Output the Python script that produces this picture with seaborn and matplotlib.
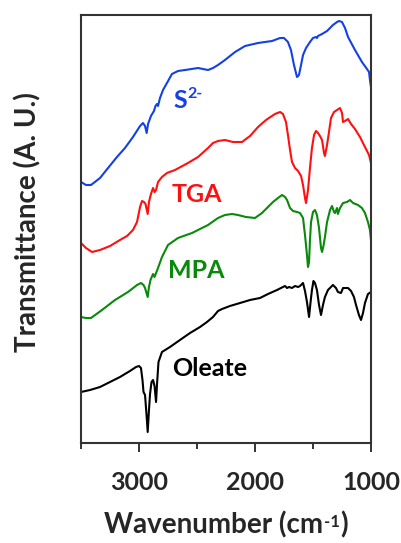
import numpy as np
import pandas as pd
import matplotlib
matplotlib.use("Agg")
import matplotlib.pyplot as plt
from matplotlib.transforms import Bbox
import seaborn as sns

# ---- data (wavenumber cm^-1, transmittance offset a.u.) ----
wn_s2 = [3500, 3457, 3414, 3336, 3267, 3190, 3121, 3052, 2991, 2966, 2948, 2934, 2922, 2897,
         2871, 2858, 2845, 2836, 2819, 2793, 2759, 2716, 2664, 2603, 2491, 2448, 2405, 2362,
         2319, 2259, 2172, 2086, 1974, 1853, 1784, 1750, 1716, 1690, 1664, 1638, 1621, 1603,
         1586, 1560, 1526, 1500, 1474, 1466, 1457, 1422, 1379, 1328, 1293, 1276, 1250, 1224,
         1198, 1138, 1078, 1035, 1017, 1009, 1000]
t_s2 = [2.61, 2.58, 2.58, 2.65, 2.75, 2.86, 2.95, 3.06, 3.17, 3.20, 3.17, 3.10, 3.19, 3.27,
        3.32, 3.37, 3.39, 3.37, 3.45, 3.53, 3.60, 3.69, 3.72, 3.73, 3.75, 3.74, 3.73, 3.75,
        3.78, 3.83, 3.91, 3.97, 4.00, 4.02, 4.05, 4.05, 4.01, 3.93, 3.78, 3.66, 3.68, 3.78,
        3.88, 3.95, 4.01, 4.05, 4.06, 4.05, 4.07, 4.09, 4.12, 4.18, 4.21, 4.22, 4.21, 4.15,
        4.06, 3.93, 3.81, 3.74, 3.71, 3.63, 3.56]

wn_tga = [3500, 3457, 3405, 3336, 3250, 3164, 3103, 3052, 3017, 2991, 2974, 2957, 2944, 2925,
          2914, 2897, 2879, 2866, 2853, 2836, 2802, 2759, 2690, 2578, 2491, 2405, 2362, 2319,
          2259, 2190, 2112, 2043, 1974, 1905, 1828, 1784, 1759, 1733, 1716, 1698, 1681, 1655,
          1629, 1603, 1586, 1569, 1560, 1543, 1526, 1509, 1491, 1474, 1457, 1440, 1422, 1405,
          1397, 1379, 1362, 1345, 1319, 1293, 1267, 1250, 1241, 1224, 1198, 1172, 1138, 1095,
          1052, 1017, 1000]
t_tga = [2.00, 1.95, 1.91, 1.93, 1.97, 2.03, 2.07, 2.13, 2.21, 2.36, 2.42, 2.41, 2.39, 2.29,
         2.41, 2.49, 2.55, 2.51, 2.53, 2.61, 2.66, 2.70, 2.73, 2.80, 2.86, 2.95, 3.00, 3.02,
         3.03, 3.01, 3.01, 3.07, 3.16, 3.23, 3.29, 3.31, 3.29, 3.21, 3.08, 2.93, 2.81, 2.75,
         2.72, 2.67, 2.58, 2.45, 2.40, 2.53, 2.75, 2.95, 3.08, 3.12, 3.10, 3.07, 3.03, 2.90,
         2.87, 2.98, 3.11, 3.25, 3.31, 3.33, 3.35, 3.30, 3.21, 3.22, 3.24, 3.19, 3.14, 3.06,
         2.96, 2.88, 2.80]

wn_mpa = [3500, 3457, 3414, 3319, 3207, 3095, 3017, 2983, 2961, 2948, 2925, 2914, 2901, 2879,
          2866, 2853, 2836, 2802, 2750, 2664, 2543, 2474, 2405, 2319, 2259, 2198, 2147, 2078,
          2000, 1940, 1888, 1845, 1802, 1767, 1741, 1724, 1698, 1672, 1638, 1612, 1586, 1569,
          1552, 1543, 1534, 1526, 1517, 1500, 1483, 1466, 1448, 1431, 1422, 1410, 1397, 1379,
          1353, 1336, 1319, 1310, 1293, 1285, 1267, 1241, 1207, 1181, 1155, 1112, 1078, 1052,
          1026, 1009, 1000]
t_mpa = [1.26, 1.25, 1.25, 1.33, 1.43, 1.51, 1.58, 1.60, 1.58, 1.55, 1.46, 1.56, 1.63, 1.69,
         1.66, 1.70, 1.75, 1.86, 1.98, 2.05, 2.10, 2.14, 2.18, 2.25, 2.28, 2.29, 2.28, 2.26,
         2.25, 2.30, 2.36, 2.41, 2.45, 2.48, 2.46, 2.43, 2.35, 2.32, 2.31, 2.30, 2.25, 2.08,
         1.88, 1.76, 1.81, 2.03, 2.21, 2.31, 2.33, 2.28, 2.15, 1.95, 1.91, 1.97, 2.06, 2.21,
         2.33, 2.37, 2.31, 2.30, 2.35, 2.29, 2.35, 2.40, 2.41, 2.43, 2.40, 2.38, 2.35, 2.30,
         2.21, 2.13, 2.03]

wn_ole = [3500, 3422, 3336, 3250, 3164, 3078, 3026, 3000, 2983, 2970, 2961, 2948, 2935, 2925,
          2914, 2905, 2892, 2879, 2866, 2853, 2845, 2832, 2802, 2733, 2647, 2560, 2474, 2414,
          2362, 2319, 2284, 2216, 2129, 2043, 1957, 1888, 1810, 1759, 1741, 1724, 1707, 1681,
          1655, 1629, 1612, 1586, 1569, 1552, 1534, 1522, 1509, 1496, 1483, 1466, 1448, 1431,
          1414, 1397, 1371, 1328, 1302, 1285, 1259, 1241, 1198, 1172, 1147, 1129, 1104, 1086,
          1069, 1052, 1026, 1000]
t_ole = [0.51, 0.53, 0.56, 0.61, 0.66, 0.72, 0.76, 0.77, 0.75, 0.63, 0.51, 0.48, 0.28, 0.11,
         0.33, 0.49, 0.61, 0.63, 0.57, 0.41, 0.58, 0.81, 0.91, 0.96, 1.03, 1.10, 1.16, 1.21,
         1.26, 1.32, 1.34, 1.37, 1.40, 1.43, 1.45, 1.49, 1.53, 1.56, 1.57, 1.55, 1.56, 1.55,
         1.57, 1.56, 1.57, 1.60, 1.52, 1.41, 1.26, 1.40, 1.53, 1.62, 1.60, 1.53, 1.38, 1.28,
         1.38, 1.46, 1.53, 1.58, 1.55, 1.51, 1.50, 1.55, 1.55, 1.52, 1.46, 1.38, 1.28, 1.23,
         1.30, 1.40, 1.49, 1.51]

series_names = ["S2-", "TGA", "MPA", "Oleate"]
series_colors = ["#1440E6", "#FF1010", "#0A8A0A", "#000000"]
label_main = ["S", "TGA", "MPA", "Oleate"]
label_sup = ["2-", "", "", ""]
label_pos = [(2707, 3.43), (2716, 2.49), (2750, 1.72), (2716, 0.75)]

x_major = [3000, 2000, 1000]
x_minor = [3500, 2500, 1500]

xlabel_main = "Wavenumber (cm"
xlabel_sup = "-1"
xlabel_end = ")"
ylabel_text = "Transmittance (A. U.)"

# ---- build long table ----
frames = []
for name, wn, t in zip(series_names, [wn_s2, wn_tga, wn_mpa, wn_ole], [t_s2, t_tga, t_mpa, t_ole]):
    frames.append(pd.DataFrame({"wn": wn, "t": t, "sample": name}))
df = pd.concat(frames, ignore_index=True)

sns.set_style("ticks")
plt.rcParams["font.family"] = ["Lato", "DejaVu Sans"]

fig = plt.figure(figsize=(4.01, 5.43), dpi=100)
ax = fig.add_axes([81 / 401, 100 / 543, 290 / 401, 428 / 543])

sns.lineplot(data=df, x="wn", y="t", hue="sample", hue_order=series_names,
             palette=series_colors, estimator=None, sort=False, linewidth=1.5,
             legend=False, ax=ax)

ax.set_xlim(3500, 1000)
ax.set_ylim(0, 4.28)
ax.set_xticks(x_major)
ax.set_xticks(x_minor, minor=True)
ax.set_yticks([])
ax.tick_params(axis="x", which="major", direction="out", length=6.5, width=1.4,
               color="#333333", labelsize=18, pad=14)
ax.tick_params(axis="x", which="minor", direction="out", length=4.3, width=1.4,
               color="#333333")
for lbl in ax.get_xticklabels():
    lbl.set_fontweight("bold")
for sp in ax.spines.values():
    sp.set_visible(True)
    sp.set_linewidth(1.5)
    sp.set_color("#333333")

# x label: main text + superscript with a short hyphen + closing parenthesis
ax.set_xlabel(xlabel_main, fontsize=20, fontweight="bold", labelpad=12)
xl = ax.xaxis.label
sup = ax.annotate(xlabel_sup, xy=(1, 1), xycoords=xl, xytext=(0.5, -2),
                  textcoords="offset points", fontsize=12, fontweight="bold",
                  ha="left", va="top")


def _after_sup(renderer):
    s = sup.get_window_extent(renderer)
    m = xl.get_window_extent(renderer)
    return Bbox.from_extents(s.x1, m.y0, s.x1, m.y1)


close = ax.annotate(xlabel_end, xy=(0, 0), xycoords=_after_sup, xytext=(0.5, 0),
                    textcoords="offset points", fontsize=20, fontweight="bold",
                    ha="left", va="bottom")
fig.canvas.draw()
r = fig.canvas.get_renderer()
mb = xl.get_window_extent(r)
cb = close.get_window_extent(r)
shift_px = ((mb.x1 - mb.x0) - (cb.x1 - mb.x0)) / 2.0
lx, ly = xl.get_position()
xl.set_position((lx + shift_px / 290.0, ly))

ax.set_ylabel(ylabel_text, fontsize=20, fontweight="bold")
ax.yaxis.set_label_coords(-0.138, 0.516)

for txt, sp_txt, (px, py), col in zip(label_main, label_sup, label_pos, series_colors):
    t = ax.text(px, py, txt, color=col, fontsize=18, fontweight="bold", ha="left", va="center")
    if sp_txt:
        ax.annotate(sp_txt, xy=(1, 1), xycoords=t, xytext=(0.8, 1), textcoords="offset points",
                    color=col, fontsize=11.5, fontweight="bold", ha="left", va="top")

fig.savefig("out.png", dpi=100)
